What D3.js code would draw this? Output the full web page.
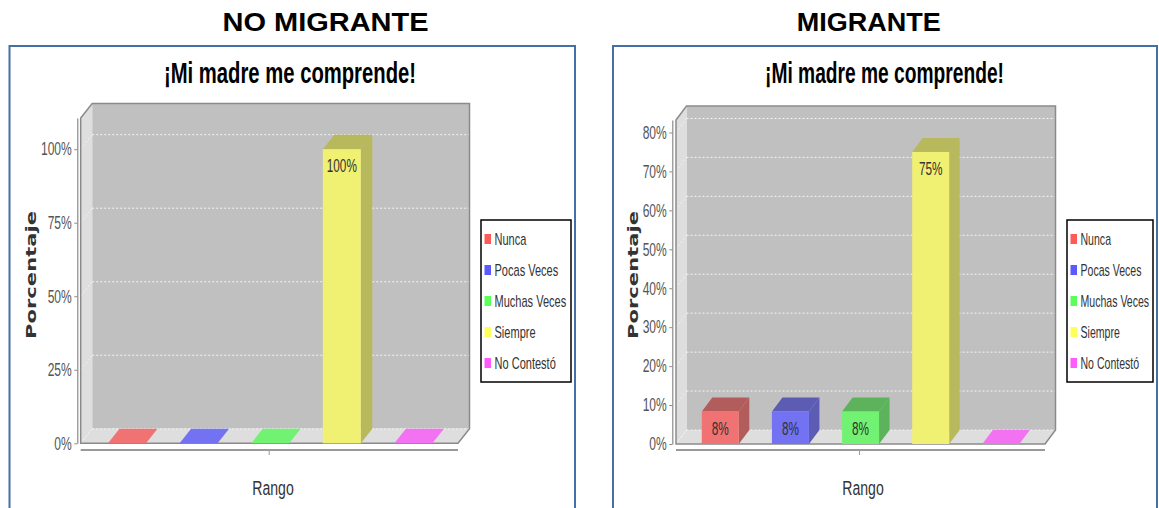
<!DOCTYPE html>
<html>
<head>
<meta charset="utf-8">
<script src="https://cdn.jsdelivr.net/npm/d3@7"></script>
<style>
  html, body { margin: 0; padding: 0; background: #ffffff; }
  svg { display: block; }
</style>
</head>
<body>
<svg id="chart" width="1159" height="508"></svg>
<script>
// ---------- DATA ----------
const categories = ["Nunca", "Pocas Veces", "Muchas Veces", "Siempre", "No Contestó"];
const noMigranteValues = [0, 0, 0, 100, 0];
const migranteValues = [8.33, 8.33, 8.33, 75, 0];
const noMigranteTicks = [0, 25, 50, 75, 100];
const migranteTicks = [0, 10, 20, 30, 40, 50, 60, 70, 80];
const panelHeaders = ["NO MIGRANTE", "MIGRANTE"];
const chartTitle = "¡Mi madre me comprende!";
const yAxisTitle = "Porcentaje";
const xAxisTitle = "Rango";

// ---------- STYLE ----------
const frontColors = ["#f07272", "#7272f2", "#72f272", "#f0f072", "#f272f2"];
const sideColors  = ["#b35c5c", "#5c5cb5", "#5cb35c", "#b8b85c", "#b55cb5"];
const legendColors = ["#ff5a5a", "#5a5aff", "#5aff5a", "#ffff5a", "#ff5aff"];
const SANS = "Liberation Sans, Arial, sans-serif";

const svg = d3.select("#chart");

// text squeezed horizontally by factor f
function sText(parent, x, y, str, anchor, f, size, fill, weight) {
  const gg = parent.append("g").attr("transform", `translate(${x},${y}) scale(${f},1)`);
  return gg.append("text")
    .attr("x", 0).attr("y", 0)
    .attr("text-anchor", anchor)
    .attr("font-family", SANS)
    .attr("font-size", size)
    .attr("font-weight", weight || "normal")
    .attr("fill", fill)
    .text(str);
}

const panels = [
  {
    header: panelHeaders[0], values: noMigranteValues, ticks: noMigranteTicks,
    border: [9.5, 46, 565.5, 500], headerX: 325.5, headerLen: 206,
    titleX: 290, titleLen: 252,
    ox0: 80.7, ox1: 458, y0: 443.3, yTop: 118, dx: 11.5, dy: -14.5,
    axisX: 77.3, pts: [127, 413.4], barW: 38, yMax: 110.6,
    legX: 481, legW: 90, legF: 0.69, yTitleX: 30, xTitleX: 273
  },
  {
    header: panelHeaders[1], values: migranteValues, ticks: migranteTicks,
    border: [613, 46, 544, 500], headerX: 868.7, headerLen: 144,
    titleX: 884.5, titleLen: 239,
    ox0: 676, ox1: 1045, y0: 444, yTop: 120, dx: 10.5, dy: -14,
    axisX: 672.3, pts: [720.3, 1000.8], barW: 37, yMax: 83.2,
    legX: 1067, legW: 86, legF: 0.66, yTitleX: 632, xTitleX: 863
  }
];

panels.forEach(p => {
  const g = svg.append("g");

  // header
  g.append("text")
    .attr("x", p.headerX).attr("y", 30.7)
    .attr("text-anchor", "middle")
    .attr("font-family", SANS)
    .attr("font-weight", "bold").attr("font-size", 25)
    .attr("fill", "#000")
    .attr("textLength", p.headerLen).attr("lengthAdjust", "spacingAndGlyphs")
    .text(p.header);

  // panel border
  g.append("rect")
    .attr("x", p.border[0]).attr("y", p.border[1])
    .attr("width", p.border[2]).attr("height", p.border[3])
    .attr("fill", "#fff").attr("stroke", "#4470a6").attr("stroke-width", 2);

  // chart title
  g.append("text")
    .attr("x", p.titleX).attr("y", 83.3)
    .attr("text-anchor", "middle")
    .attr("font-family", SANS)
    .attr("font-weight", "bold").attr("font-size", 30)
    .attr("fill", "#000")
    .attr("textLength", p.titleLen).attr("lengthAdjust", "spacingAndGlyphs")
    .text(chartTitle);

  const y = d3.scaleLinear().domain([0, p.yMax]).range([p.y0, p.yTop]);
  const x = d3.scalePoint().domain(categories).range(p.pts);
  const dx = p.dx, dy = p.dy;

  // back wall
  g.append("rect")
    .attr("x", p.ox0 + dx).attr("y", p.yTop + dy)
    .attr("width", p.ox1 - p.ox0)
    .attr("height", p.y0 - p.yTop)
    .attr("fill", "#c0c0c0");
  // left wall
  g.append("path")
    .attr("d", `M${p.ox0},${p.yTop} L${p.ox0 + dx},${p.yTop + dy} L${p.ox0 + dx},${p.y0 + dy} L${p.ox0},${p.y0} Z`)
    .attr("fill", "#dedede");
  // floor
  g.append("path")
    .attr("d", `M${p.ox0},${p.y0} L${p.ox0 + dx},${p.y0 + dy} L${p.ox1 + dx},${p.y0 + dy} L${p.ox1},${p.y0} Z`)
    .attr("fill", "#dedede");

  // gridlines on back wall
  g.append("g").selectAll("line").data(p.ticks).join("line")
    .attr("x1", p.ox0 + dx).attr("x2", p.ox1 + dx)
    .attr("y1", d => y(d) + dy).attr("y2", d => y(d) + dy)
    .attr("stroke", "#f4f4f4").attr("stroke-width", 1)
    .attr("stroke-dasharray", "2,2");
  // faint gridlines on left wall
  g.append("g").selectAll("line").data(p.ticks).join("line")
    .attr("x1", p.ox0).attr("x2", p.ox0 + dx)
    .attr("y1", d => y(d)).attr("y2", d => y(d) + dy)
    .attr("stroke", "#ffffff").attr("stroke-width", 1)
    .attr("stroke-dasharray", "2,2").attr("opacity", 0.6);

  // outline
  g.append("path")
    .attr("d", `M${p.ox0},${p.yTop} L${p.ox0 + dx},${p.yTop + dy} L${p.ox1 + dx},${p.yTop + dy} L${p.ox1 + dx},${p.y0 + dy} L${p.ox1},${p.y0} L${p.ox0},${p.y0} Z`)
    .attr("fill", "none").attr("stroke", "#8a8a8a").attr("stroke-width", 1.5);

  // bars
  const bars = g.append("g");
  p.values.forEach((v, i) => {
    const cx = x(categories[i]);
    const bx = cx - p.barW / 2, bw = p.barW;
    const yv = y(v), yb = p.y0;
    if (v <= 0) {
      bars.append("path")
        .attr("d", `M${bx},${yb} L${bx + bw},${yb} L${bx + bw + dx},${yb + dy} L${bx + dx},${yb + dy} Z`)
        .attr("fill", frontColors[i]);
      return;
    }
    bars.append("path")
      .attr("d", `M${bx + bw},${yv} L${bx + bw + dx},${yv + dy} L${bx + bw + dx},${yb + dy} L${bx + bw},${yb} Z`)
      .attr("fill", sideColors[i]);
    bars.append("path")
      .attr("d", `M${bx},${yv} L${bx + dx},${yv + dy} L${bx + bw + dx},${yv + dy} L${bx + bw},${yv} Z`)
      .attr("fill", sideColors[i]);
    bars.append("rect")
      .attr("x", bx).attr("y", yv).attr("width", bw).attr("height", yb - yv)
      .attr("fill", frontColors[i]);
    sText(bars, cx, yv + 23, Math.round(v) + "%", "middle", 0.62, 19, "#333");
  });

  // y axis (line + ticks from d3 axis; labels drawn squeezed)
  const yAxis = d3.axisLeft(y).tickValues(p.ticks).tickFormat("")
    .tickSizeInner(3).tickSizeOuter(0);
  const ag = g.append("g").attr("transform", `translate(${p.axisX},0)`).call(yAxis);
  ag.select(".domain").attr("stroke", "#8a8a8a").attr("stroke-width", 1.2);
  ag.selectAll(".tick line").attr("stroke", "#8a8a8a");
  p.ticks.forEach(t => {
    sText(g, p.axisX - 5.5, y(t) + 6.3, t + "%", "end", 0.67, 18, "#555");
  });

  // category axis line + center tick
  g.append("line")
    .attr("x1", p.ox0).attr("x2", p.ox1).attr("y1", 450).attr("y2", 450)
    .attr("stroke", "#9a9a9a").attr("stroke-width", 2);
  const midX = (p.pts[0] + p.pts[1]) / 2;
  g.append("line")
    .attr("x1", midX - 1).attr("x2", midX - 1).attr("y1", 450).attr("y2", 455)
    .attr("stroke", "#9a9a9a").attr("stroke-width", 1);

  // axis titles
  sText(g, p.xTitleX, 495, xAxisTitle, "middle", 0.67, 21, "#333");

  g.append("text")
    .attr("transform", `translate(${p.yTitleX + 6},275) rotate(-90) scale(1,0.85)`)
    .attr("text-anchor", "middle")
    .attr("font-family", "DejaVu Sans, Verdana, sans-serif")
    .attr("font-weight", "bold").attr("font-size", 17).attr("fill", "#333")
    .attr("textLength", 128).attr("lengthAdjust", "spacingAndGlyphs")
    .text(yAxisTitle);

  // legend
  const lg = g.append("g");
  lg.append("rect")
    .attr("x", p.legX).attr("y", 220).attr("width", p.legW).attr("height", 162)
    .attr("fill", "#fff").attr("stroke", "#000").attr("stroke-width", 1.5);
  const itemY = d3.scalePoint().domain(categories).range([239, 363]);
  categories.forEach((c, i) => {
    lg.append("rect")
      .attr("x", p.legX + 3.5).attr("y", itemY(c) - 5)
      .attr("width", 6.5).attr("height", 10)
      .attr("fill", legendColors[i]);
    sText(lg, p.legX + 13.5, itemY(c) + 5.5, c, "start", p.legF, 16, "#333");
  });
});
</script>
</body>
</html>
